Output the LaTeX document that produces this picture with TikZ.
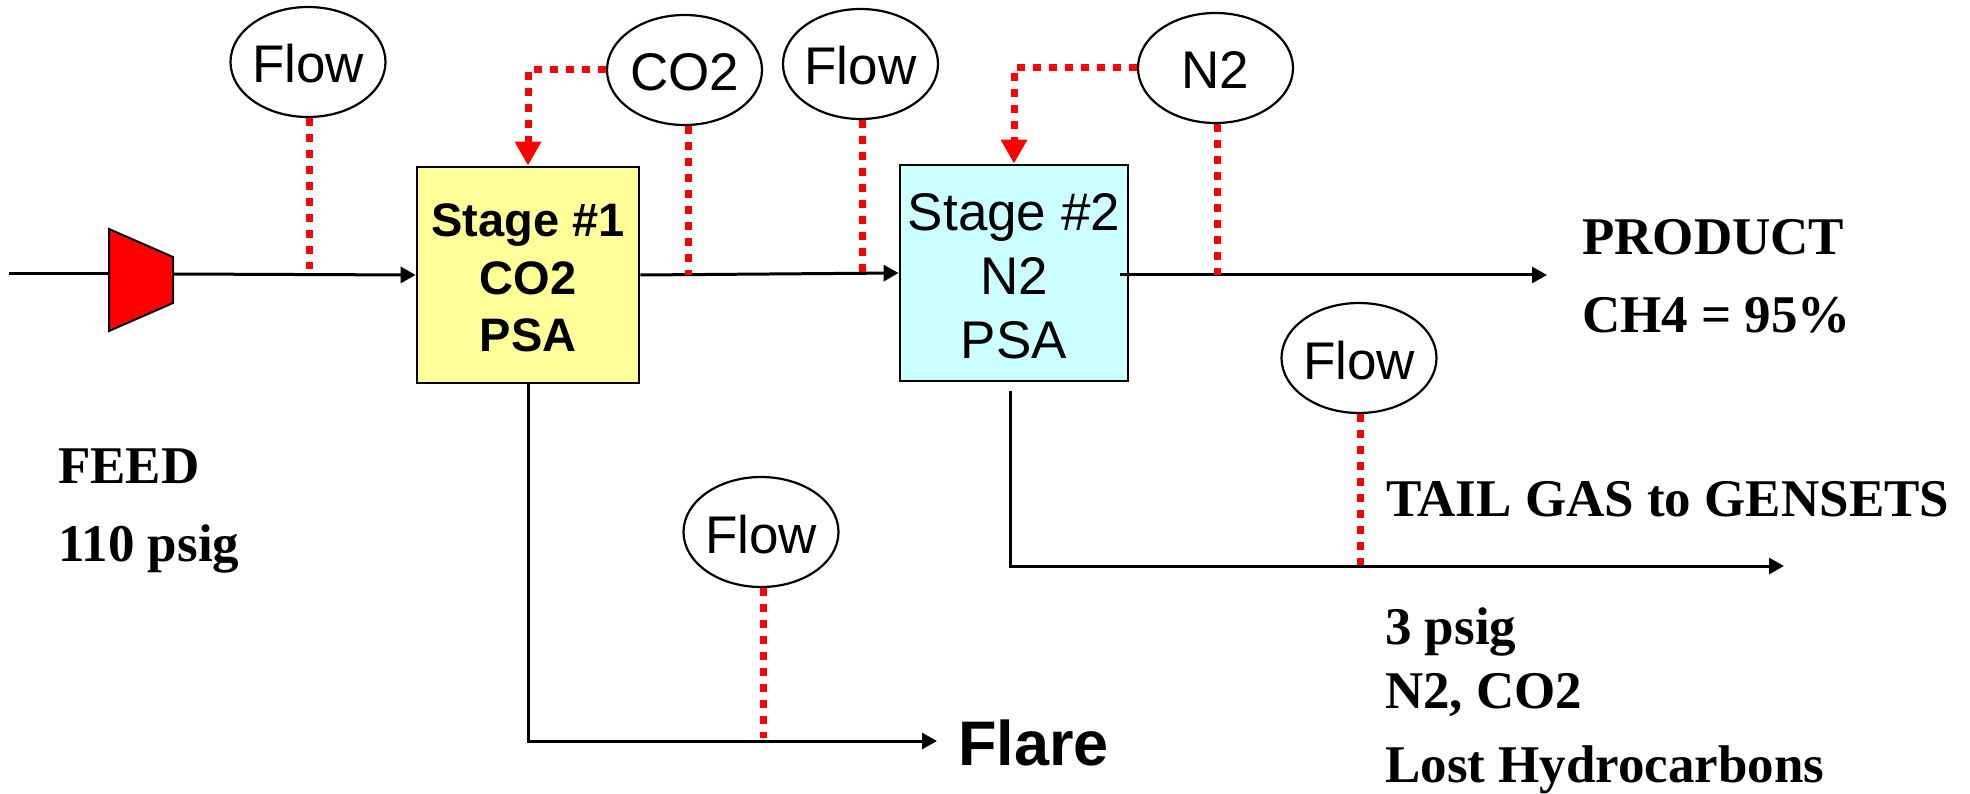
\documentclass[tikz,border=0pt]{standalone}
\usepackage{fontspec}
\setmainfont{Liberation Serif}
\setsansfont{Liberation Sans}
\usetikzlibrary{arrows.meta,shapes.geometric}
\definecolor{boxyellow}{RGB}{255,255,153}
\definecolor{boxcyan}{RGB}{204,255,255}
\tikzset{
  gauge/.style={draw=black,line width=2.2pt,fill=white,ellipse,inner ysep=0pt,inner xsep=-3pt,minimum width=155pt,minimum height=110pt,text height=42pt,text depth=0pt,font=\sffamily\fontsize{53}{60}\selectfont},
  stagebox/.style={draw=black,line width=2.8pt,inner sep=0pt,align=center},
  flowline/.style={draw=black,line width=3pt,-{Triangle[length=15pt,width=16pt]}},
  plainline/.style={draw=black,line width=3pt},
  signal/.style={draw=red,line width=7pt,dash pattern=on 8pt off 8pt},
  signalarrow/.style={signal,-{Triangle[length=24pt,width=25pt,fill=red]}},
  serifnote/.style={anchor=base west,inner sep=0pt,font=\bfseries\fontsize{53}{60}\selectfont},
}
\begin{document}
\begin{tikzpicture}[x=1pt,y=-1pt]
\useasboundingbox (0,0) rectangle (1970,794);
% junction coordinates
\coordinate (feedin) at (9,274);
\coordinate (vl) at (109,274);
\coordinate (vr) at (173,274);
\coordinate (vlt) at (109,229);
\coordinate (vlb) at (109,331);
\coordinate (vrt) at (173,257);
\coordinate (vrb) at (173,303);
\coordinate (j1) at (309,269);
\coordinate (j2) at (688,275);
\coordinate (j3) at (862,272);
\coordinate (j4) at (1217,275);
\coordinate (pstart) at (1120,275);
\coordinate (pend) at (1547,275);
\coordinate (j5) at (1360,565);
\coordinate (j6) at (763,738);
\coordinate (fcorner) at (528.5,741);
\coordinate (fend) at (937,741);
\coordinate (tstart) at (1010,391);
\coordinate (tcorner) at (1010,566);
\coordinate (tend) at (1784,566);
% boxes
\node[stagebox,fill=boxyellow,minimum width=222pt,minimum height=216pt,font=\sffamily\bfseries\fontsize{47}{57.5}\selectfont] (box1) at (528,275) {\rule{0pt}{39pt}Stage \#1\\CO2\\PSA};
\node[stagebox,fill=boxcyan,minimum width=228pt,minimum height=216pt,font=\sffamily\fontsize{53}{64}\selectfont] (box2) at (1014,273) {\rule{0pt}{43pt}Stage \#2\\N2\\PSA};
% gauges
\node[gauge] (flowa) at (308,62) {Flow};
\node[gauge] (co2) at (684.5,70) {CO2};
\node[gauge] (flowb) at (860.5,64) {Flow};
\node[gauge] (n2) at (1215.5,68) {N2};
\node[gauge] (flowc) at (1359,358) {Flow};
\node[gauge] (flowd) at (761,532) {Flow};
% process lines
\draw[plainline] (feedin) -- (vl);
\draw[flowline] (vr) -- (box1.west);
\draw[flowline] (box1.east) -- (box2.west);
\draw[flowline] (pstart) -- (pend);
\draw[flowline] (box1.south) -- (box1.south |- fcorner) -- (fend);
\draw[flowline] (tstart) -- (tcorner) -- (tend);
% compressor
\draw[draw=black,line width=2pt,fill=red,line join=miter] (vlt) -- (vrt) -- (vrb) -- (vlb) -- cycle;
% signal lines
\draw[signal] (j1 |- flowa.south) -- (j1);
\draw[signal] (j2 |- co2.south) -- (j2);
\draw[signal] (j3 |- flowb.south) -- (j3);
\draw[signal] (j4 |- n2.south) -- (j4);
\draw[signal] (j5 |- flowc.south) -- (j5);
\draw[signal] (j6 |- flowd.south) -- (j6);
\draw[signalarrow] (co2.west) -| (box1.north);
\draw[signalarrow] (n2.west) -| (box2.north);
% notes
\node[serifnote] (feed) at (58,483) {FEED};
\node[serifnote] (feedp) at (58,561) {110 psig};
\node[serifnote] (prod) at (1582,255) {PRODUCT};
\node[serifnote] (ch4) at (1582,332) {CH4 = 95\%};
\node[serifnote] (tail) at (1386,516) {TAIL GAS to GENSETS};
\node[serifnote] (tailp) at (1385,644) {3 psig};
\node[serifnote] (tailn) at (1385,708) {N2, CO2};
\node[serifnote] (taill) at (1385,782) {Lost Hydrocarbons};
\node[anchor=base west,inner sep=0pt,font=\sffamily\bfseries\fontsize{63}{70}\selectfont] (flare) at (958,765) {Flare};
\end{tikzpicture}
\end{document}
